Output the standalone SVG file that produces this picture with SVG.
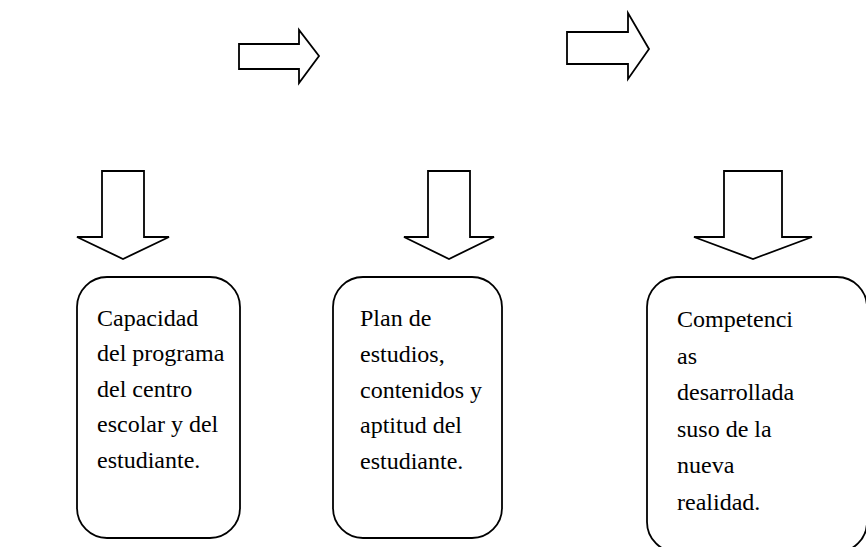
<svg xmlns="http://www.w3.org/2000/svg" width="866" height="547" viewBox="0 0 866 547">
<style>
.shape{fill:#fff;stroke:#000;stroke-width:1.8;stroke-linejoin:miter}
.box{fill:#fff;stroke:#000;stroke-width:1.8}
.t{font-family:"Liberation Serif","Times New Roman",serif;font-size:24px;fill:#000}
</style>
<rect width="866" height="547" fill="#fff"/>
<g id="connectors">
<polygon class="shape" points="239,44 299,44 299,30 319,56 299,83 299,69 239,69"/>
<polygon class="shape" points="567,32 628,32 628,13 649,49 628,79 628,64 567,64"/>
<polygon class="shape" points="102,171 144,171 144,237 169,237 123,259 77,237 102,237"/>
<polygon class="shape" points="428,171 470,171 470,237 494,237 449,259 404,237 428,237"/>
<polygon class="shape" points="724,171 782,171 782,237 812,237 753,259 694,237 724,237"/>
</g>
<g id="node1">
<rect class="box" x="77" y="277" width="163" height="261" rx="30" ry="30"/>
<text class="t" x="97" y="326">Capacidad</text>
<text class="t" x="97" y="361">del programa</text>
<text class="t" x="97" y="397">del centro</text>
<text class="t" x="97" y="432">escolar y del</text>
<text class="t" x="97" y="468">estudiante.</text>
</g>
<g id="node2">
<rect class="box" x="333" y="277" width="169" height="261" rx="30" ry="30"/>
<text class="t" x="360" y="326">Plan de</text>
<text class="t" x="360" y="362">estudios,</text>
<text class="t" x="360" y="398">contenidos y</text>
<text class="t" x="360" y="433">aptitud del</text>
<text class="t" x="360" y="469">estudiante.</text>
</g>
<g id="node3">
<rect class="box" x="647" y="277" width="220" height="275" rx="30" ry="30"/>
<text class="t" x="677" y="327">Competenci</text>
<text class="t" x="677" y="364">as</text>
<text class="t" x="677" y="400">desarrollada</text>
<text class="t" x="677" y="437">suso de la</text>
<text class="t" x="677" y="473">nueva</text>
<text class="t" x="677" y="510">realidad.</text>
</g>
</svg>
